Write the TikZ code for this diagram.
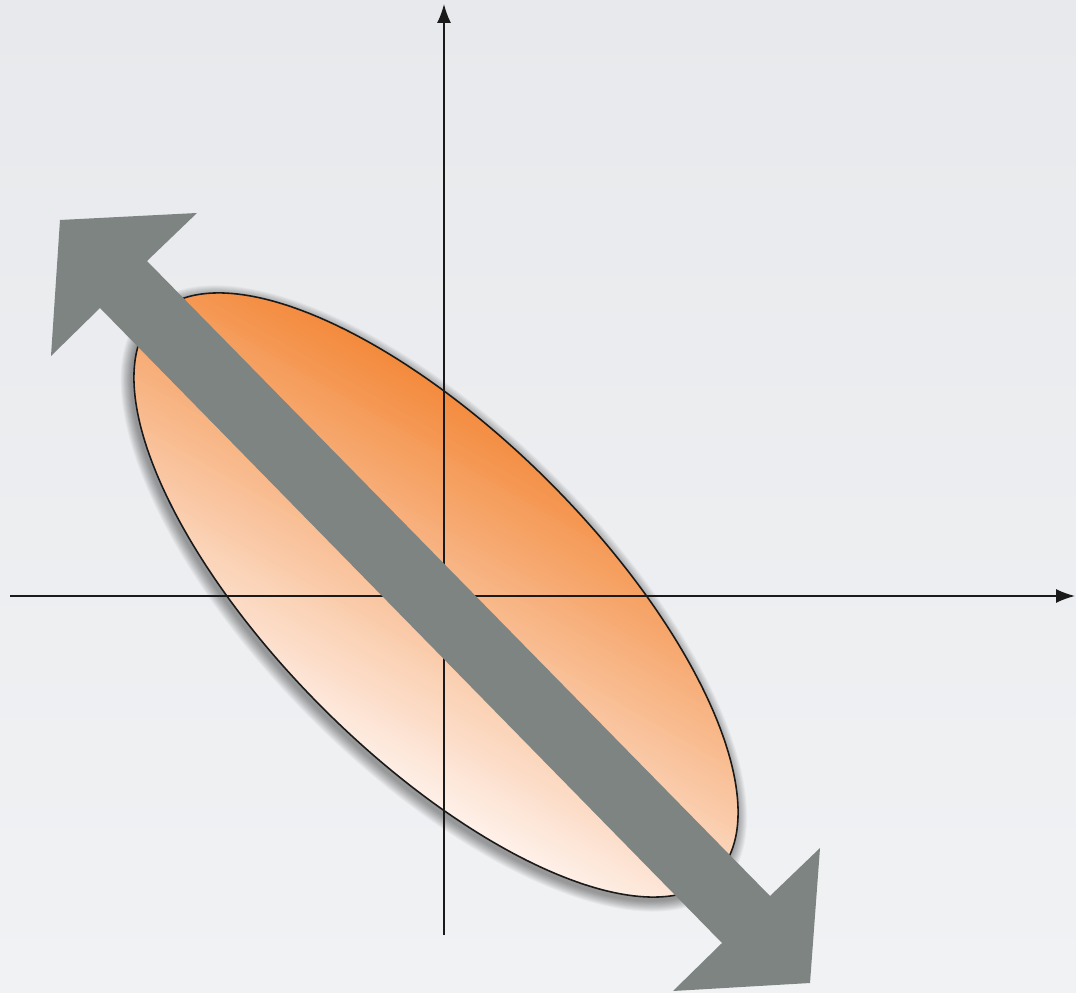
\documentclass[tikz,border=0pt]{standalone}
\usetikzlibrary{arrows.meta}
\definecolor{CanvasTop}{HTML}{E7E9EC}
\definecolor{CanvasLow}{HTML}{F1F2F4}
\definecolor{Ember}{HTML}{F3893A}
\definecolor{Blush}{HTML}{FEF1EA}
\definecolor{Slate}{HTML}{7E8482}
\definecolor{Ink}{HTML}{1A1A1A}

\begin{document}
\begin{tikzpicture}[x=0.1mm,y=-0.1mm,>={Latex[length=1.9mm,width=1.4mm]},
  axis/.style={Ink,line width=.45pt,->},
  blob/.style={rotate around={-45:(c)}}]
\useasboundingbox (0,0) rectangle (1076,993);
\shade[top color=CanvasTop,bottom color=CanvasLow] (0,0) rectangle (1076,993);
\coordinate (c) at (436,595);
% soft shadow under the ellipse
\foreach \k in {1,...,12}
  \fill[black,opacity=.035,blob] ([shift={(1,4)}]c) ellipse [x radius=396+\k,y radius=160+\k];
% orange fill, graded across the ellipse
\begin{scope}
\clip[blob] (c) ellipse [x radius=396,y radius=160];
\begin{scope}[shift={(c)},rotate=-30]
\foreach \i in {0,...,94}{
  \pgfmathsetmacro\ya{190-4*\i}
  \pgfmathsetmacro\yb{\ya-5}
  \pgfmathtruncatemacro\p{100*\i/94}
  \fill[Ember!\p!Blush] (-460,\ya) rectangle (460,\yb);
}
\end{scope}
\end{scope}
\draw[Ink,line width=.45pt,blob] (c) ellipse [x radius=396,y radius=160];
% axes
\coordinate (xl) at (10,596);\coordinate (xr) at (1075,596);
\coordinate (yb) at (444,935);\coordinate (yt) at (444,4);
\draw[axis] (xl)--(xr);
\draw[axis] (yb)--(yt);
% big double arrow
\fill[Slate] (60,220)--(197,213)--(147,261)--(770,896)--(820,848)--(810,983)
  --(673,991)--(722,943)--(100,308)--(51,356)--cycle;
\end{tikzpicture}
\end{document}
